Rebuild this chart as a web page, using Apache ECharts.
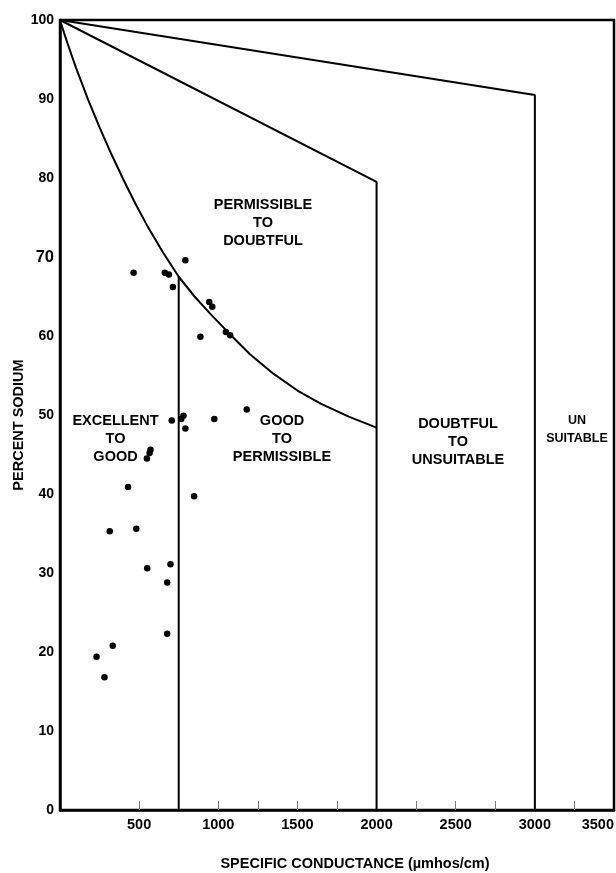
<!DOCTYPE html>
<html>
<head>
<meta charset="utf-8">
<script src="https://cdn.jsdelivr.net/npm/echarts@6/dist/echarts.min.js"></script>
<style>
html,body{margin:0;padding:0;background:#fff;}
#chart{width:616px;height:873px;}
</style>
</head>
<body>
<div id="chart"></div>
<script>
// Sample points (specific conductance, percent sodium)
const samples = [
  [465, 68.0], [662, 68.0], [688, 67.8], [713, 66.2], [792, 69.6],
  [943, 64.3], [962, 63.7], [887, 59.9], [1048, 60.5], [1075, 60.1],
  [1180, 50.7], [975, 49.5], [706, 49.3], [766, 49.5], [780, 49.9],
  [792, 48.3], [572, 45.6], [566, 45.2], [549, 44.5], [430, 40.9],
  [847, 39.7], [314, 35.3], [482, 35.6], [551, 30.6], [698, 31.1],
  [677, 28.8], [677, 22.3], [333, 20.8], [231, 19.4], [281, 16.8]
];
// Class boundaries
const curveBoundary = [
  [0, 100], [25, 98.4], [50, 96.9], [100, 94.0], [178, 89.9], [250, 86.4],
  [325, 83.0], [398, 79.9], [475, 76.8], [550, 74.0], [650, 70.6],
  [750, 67.5], [850, 65.0], [950, 62.8], [1075, 60.2], [1200, 57.7],
  [1350, 55.2], [1500, 53.1], [1650, 51.4], [1824, 49.8], [2000, 48.4]
];
const excellentLine = [[750, 0], [750, 67.5]];
const permissibleLine = [[0, 100], [2000, 79.5], [2000, 0]];
const doubtfulLine = [[0, 100], [3000, 90.5], [3000, 0]];
const xTickValues = [500, 1000, 1250, 1500, 1750, 2250, 2500, 2750, 3250];
const xLabelValues = [500, 1000, 1500, 2000, 2500, 3000, 3500];
const yLabelValues = [0, 10, 20, 30, 40, 50, 60, 70, 80, 90, 100];

const FONT = '"Liberation Sans", Arial, Helvetica, sans-serif';
const chart = echarts.init(document.getElementById('chart'), null, {renderer: 'canvas'});

const lineStyle = {color: '#000', width: 2};
function boundary(data) {
  return {
    type: 'line', data: data, symbol: 'none', smooth: false,
    lineStyle: lineStyle, silent: true, z: 3
  };
}

function regionText(lines, x, y, size) {
  return {
    type: 'text', x: x, y: y, z: 10,
    style: {
      text: lines.join('\n'), fill: '#000', font: 'bold ' + (size || 14.5) + 'px ' + FONT,
      align: 'center', verticalAlign: 'middle', lineHeight: 18
    }
  };
}

chart.setOption({
  animation: false,
  backgroundColor: '#fff',
  grid: {left: 60, right: 2, top: 20, bottom: 63, outerBoundsMode: 'none', containLabel: false,
         show: true, borderColor: '#000', borderWidth: 2.5, backgroundColor: 'transparent'},
  xAxis: {
    type: 'value', min: 0, max: 3500,
    name: 'SPECIFIC CONDUCTANCE (\u00b5mhos/cm)', nameLocation: 'middle', nameGap: 46, nameMoveOverlap: false,
    nameTextStyle: {fontFamily: FONT, fontWeight: 'bold', fontSize: 14.5, color: '#000', padding: [0, 0, 0, 36]},
    axisLine: {show: true, lineStyle: {color: '#000', width: 2.5}},
    axisTick: {show: true, inside: true, length: 9, customValues: xTickValues, lineStyle: {color: '#777', width: 1}},
    axisLabel: {customValues: xLabelValues, margin: 7, fontFamily: FONT, fontWeight: 'bold', fontSize: 14.5, color: '#000',
                alignMaxLabel: 'right', formatter: function (v) { return String(v); }},
    splitLine: {show: false}
  },
  yAxis: {
    type: 'value', min: 0, max: 100,
    name: 'PERCENT SODIUM', nameLocation: 'middle', nameGap: 34, nameRotate: 90, nameMoveOverlap: false,
    nameTextStyle: {fontFamily: FONT, fontWeight: 'bold', fontSize: 14.5, color: '#000', padding: [0, 20, 0, 0]},
    axisLine: {show: true, lineStyle: {color: '#000', width: 2.5}},
    axisTick: {show: false},
    axisLabel: {
      customValues: yLabelValues, margin: 6, fontFamily: FONT, fontWeight: 'bold', fontSize: 14, color: '#000',
      formatter: function (v) { return v === 70 ? '{big|70}' : String(v); },
      rich: {big: {fontFamily: FONT, fontWeight: 'bold', fontSize: 16.5, color: '#000'}}
    },
    splitLine: {show: false}
  },
  series: [
    boundary(curveBoundary),
    boundary(excellentLine),
    boundary(permissibleLine),
    boundary(doubtfulLine),
    {
      type: 'scatter', data: samples, symbol: 'circle', symbolSize: 6.5,
      itemStyle: {color: '#000', opacity: 1}, z: 5, silent: true
    }
  ],
  graphic: [
    regionText(['PERMISSIBLE', 'TO', 'DOUBTFUL'], 263, 223),
    regionText(['EXCELLENT', 'TO', 'GOOD'], 115.5, 439),
    regionText(['GOOD', 'TO', 'PERMISSIBLE'], 282, 439),
    regionText(['DOUBTFUL', 'TO', 'UNSUITABLE'], 458, 442),
    regionText(['UN', 'SUITABLE'], 577, 430, 12.5)
  ]
});
</script>
</body>
</html>
